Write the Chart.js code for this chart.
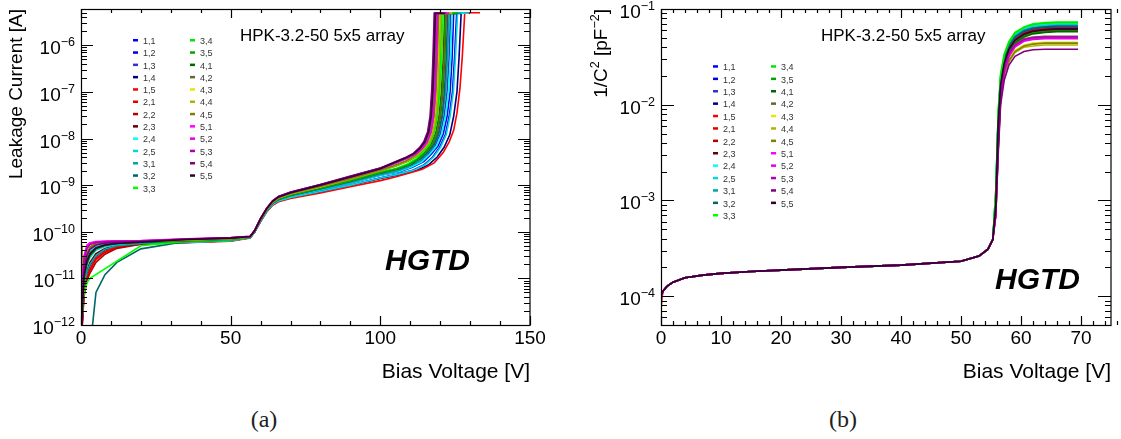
<!DOCTYPE html>
<html>
<head>
<meta charset="utf-8">
<script src="https://cdn.jsdelivr.net/npm/chart.js@4.4.1/dist/chart.umd.min.js"></script>
<style>
  html, body { margin: 0; padding: 0; background: #fff; }
  #page { position: relative; width: 1121px; height: 439px; overflow: hidden; }
  canvas { position: absolute; top: 0; }
  #iv { left: 0; }
  #cv { left: 560px; }
  .cap { position: absolute; top: 406px; width: 60px; text-align: center; font: 24px "Liberation Serif", "DejaVu Serif", serif; color: #222; }
</style>
</head>
<body>
<div id="page">
  <canvas id="iv" width="560" height="395"></canvas>
  <canvas id="cv" width="561" height="395"></canvas>
  <div class="cap" style="left:234px">(a)</div>
  <div class="cap" style="left:813px">(b)</div>
</div>
<script>
// pads of the 5x5 array, in measurement order
const padLabels = ['1,1', '1,2', '1,3', '1,4', '1,5', '2,1', '2,2', '2,3', '2,4', '2,5',
  '3,1', '3,2', '3,3', '3,4', '3,5', '4,1', '4,2', '4,3', '4,4', '4,5',
  '5,1', '5,2', '5,3', '5,4', '5,5'];
const padColors = ['#0000ff', '#0000e6', '#3333cc', '#000080', '#ff0000', '#e60000', '#b30000', '#660000',
  '#00ffff', '#00d9d9', '#00a6a6', '#006666', '#00ff00', '#00e600', '#00a600', '#006600',
  '#666633', '#e6e600', '#b3b300', '#808000', '#ff00ff', '#e600e6', '#b300b3', '#800080', '#330033'];

// ---- I-V: leakage current in pA ----
const ivVoltLow = [0, 0.3, 1, 2, 3, 5, 8, 12, 20];
const ivLow = [
  [0.3, 1.5, 12, 25, 35, 46, 52, 55, 57],
  [0.3, 1.4, 11, 23, 33, 45, 51, 55, 57],
  [0.3, 1.6, 13, 27, 37, 48, 53, 56, 58],
  [0.2, 0.9, 6, 13, 19, 30, 41, 49, 55],
  [0.2, 0.8, 5, 10, 15, 25, 36, 46, 54],
  [0.2, 0.8, 5, 11, 16, 27, 38, 48, 55],
  [0.2, 0.7, 4, 9, 13, 22, 33, 44, 54],
  [0.2, 0.9, 7, 15, 22, 34, 44, 51, 58],
  [0.3, 1.8, 14, 28, 38, 49, 54, 56, 58],
  [0.3, 1.2, 9, 19, 28, 40, 48, 53, 57],
  [0.2, 1.0, 7, 14, 20, 31, 42, 50, 56],
  [0.1, 0.1, 0.1, 0.1, 0.3, 5, 12, 22, 43],
  [0.2, 1.5, 5, 8, 10, null, null, null, 50],
  [0.4, 2.5, 20, 38, 48, 56, 59, 61, 62],
  [0.3, 1.5, 12, 25, 35, 46, 53, 57, 60],
  [0.3, 1.3, 10, 21, 31, 43, 51, 56, 60],
  [0.4, 2.5, 20, 37, 47, 55, 59, 61, 62],
  [55, 2, 22, 42, 52, 58, 61, 62, 63],
  [0.5, 3, 25, 45, 55, 60, 61, 62, 63],
  [50, 1, 10, 30, 45, 57, 60, 61, 62],
  [0.6, 4, 30, 52, 58, 62, 63, 64, 65],
  [0.5, 3.5, 28, 48, 56, 60, 62, 63, 64],
  [0.5, 3, 24, 44, 53, 59, 61, 62, 63],
  [0.4, 2, 16, 32, 42, 52, 57, 60, 62],
  [0.3, 1.4, 11, 24, 34, 45, 52, 56, 60],
];
const ivVoltMid = [35, 50, 56.5, 58, 60, 62, 64, 66, 70, 80, 90, 100];
const ivMid = [
  [59, 64, 74, 99, 171, 273, 387, 462, 548, 735, 1005, 1430],
  [61, 66, 75, 100, 174, 279, 398, 478, 577, 795, 1110, 1625],
  [61, 66, 75, 100, 176, 282, 402, 483, 585, 808, 1135, 1660],
  [59, 64, 74, 98, 168, 270, 380, 455, 538, 715, 980, 1390],
  [58, 63, 73, 98, 165, 265, 370, 440, 520, 680, 920, 1250],
  [63, 68, 76, 101, 179, 288, 412, 500, 608, 850, 1215, 1830],
  [63, 68, 76, 102, 181, 291, 417, 508, 620, 868, 1245, 1870],
  [68, 73, 78, 104, 188, 306, 444, 552, 680, 985, 1475, 2210],
  [60, 65, 75, 100, 175, 280, 400, 480, 580, 800, 1120, 1640],
  [59, 64, 74, 99, 170, 272, 385, 460, 545, 730, 1000, 1420],
  [61, 66, 75, 100, 177, 284, 405, 486, 590, 815, 1145, 1680],
  [62, 67, 76, 101, 178, 286, 408, 495, 600, 838, 1195, 1790],
  [62, 67, 76, 102, 182, 293, 420, 512, 625, 875, 1260, 1895],
  [66, 71, 77, 103, 184, 297, 426, 523, 640, 905, 1320, 1990],
  [63, 68, 76, 101, 180, 289, 414, 503, 612, 856, 1225, 1845],
  [66, 71, 77, 103, 185, 300, 430, 530, 650, 920, 1350, 2050],
  [69, 74, 79, 105, 191, 312, 452, 563, 695, 1005, 1510, 2270],
  [67, 72, 77, 103, 186, 302, 433, 535, 657, 930, 1365, 2080],
  [66, 71, 77, 103, 185, 299, 429, 528, 647, 915, 1340, 2030],
  [67, 72, 77, 104, 187, 304, 436, 540, 665, 945, 1390, 2120],
  [71, 75, 80, 106, 192, 314, 455, 567, 700, 1015, 1525, 2290],
  [69, 73, 79, 104, 189, 307, 446, 555, 684, 992, 1485, 2225],
  [70, 74, 80, 106, 193, 316, 458, 571, 705, 1025, 1540, 2315],
  [69, 74, 79, 106, 194, 318, 461, 575, 710, 1035, 1560, 2340],
  [68, 73, 79, 105, 190, 310, 450, 560, 690, 1000, 1500, 2250],
];
// onset of breakdown above 100 V: [voltage, current pA] per pad
const ivTail = [
  [[105.5, 1700], [110.5, 2050], [114.5, 2700], [117.5, 4000], [119.8, 6500], [121.7, 12000], [123, 30000], [124.1, 100000], [124.8, 550000]],
  [[106.5, 1950], [110.5, 2400], [114.5, 3200], [117, 4600], [119.3, 7000], [121, 12500], [122.3, 30000], [123.3, 100000], [123.95, 500000]],
  [[105.5, 1950], [109.5, 2400], [113.5, 3200], [116, 4600], [118.3, 7000], [120, 12500], [121.3, 30000], [122.3, 100000], [122.95, 500000]],
  [[107, 1700], [112, 2050], [116, 2700], [119, 4000], [121.3, 6500], [123.2, 12000], [124.5, 30000], [125.6, 100000], [126.3, 550000]],
  [[105, 1500], [110, 1850], [114, 2200], [118, 3000], [121, 5000], [123, 8500], [124.5, 15000], [125.6, 35000], [126.6, 120000], [127.4, 600000]],
  [[106, 2250], [110, 2800], [113, 3700], [115.5, 5200], [117.5, 7500], [119, 13000], [120.1, 30000], [120.9, 100000], [121.5, 500000]],
  [[105.5, 2250], [109.5, 2800], [112.5, 3700], [115, 5200], [117, 7500], [118.5, 13000], [119.6, 30000], [120.4, 100000], [121, 500000]],
  [[105, 3000], [109, 3800], [112, 4800], [114, 6300], [115.5, 8500], [116.8, 14000], [117.6, 30000], [118.2, 120000], [118.6, 600000]],
  [[106, 1950], [110, 2400], [114, 3200], [116.5, 4600], [118.8, 7000], [120.5, 12500], [121.8, 30000], [122.8, 100000], [123.45, 500000]],
  [[105.8, 1700], [110.8, 2050], [114.8, 2700], [117.8, 4000], [120.1, 6500], [122, 12000], [123.3, 30000], [124.4, 100000], [125.1, 550000]],
  [[105, 1950], [109, 2400], [113, 3200], [115.5, 4600], [117.8, 7000], [119.5, 12500], [120.8, 30000], [121.8, 100000], [122.45, 500000]],
  [[106.5, 2250], [110.5, 2800], [113.5, 3700], [116, 5200], [118, 7500], [119.5, 13000], [120.6, 30000], [121.4, 100000], [122, 500000]],
  [[105, 2250], [109, 2800], [112, 3700], [114.5, 5200], [116.5, 7500], [118, 13000], [119.1, 30000], [119.9, 100000], [120.5, 500000]],
  [[105.5, 2600], [109.5, 3300], [112.5, 4300], [114.7, 5800], [116.5, 8000], [117.9, 13500], [118.9, 30000], [119.6, 110000], [120.05, 550000]],
  [[105.8, 2250], [109.8, 2800], [112.8, 3700], [115.3, 5200], [117.3, 7500], [118.8, 13000], [119.9, 30000], [120.7, 100000], [121.3, 500000]],
  [[105, 2600], [109, 3300], [112, 4300], [114.2, 5800], [116, 8000], [117.4, 13500], [118.4, 30000], [119.1, 110000], [119.55, 550000]],
  [[104.8, 3000], [108.8, 3800], [111.8, 4800], [113.8, 6300], [115.3, 8500], [116.6, 14000], [117.4, 30000], [118, 120000], [118.4, 600000]],
  [[104.8, 2600], [108.8, 3300], [111.8, 4300], [114, 5800], [115.8, 8000], [117.2, 13500], [118.2, 30000], [118.9, 110000], [119.35, 550000]],
  [[105.2, 2600], [109.2, 3300], [112.2, 4300], [114.4, 5800], [116.2, 8000], [117.6, 13500], [118.6, 30000], [119.3, 110000], [119.75, 550000]],
  [[104.5, 2600], [108.5, 3300], [111.5, 4300], [113.7, 5800], [115.5, 8000], [116.9, 13500], [117.9, 30000], [118.6, 110000], [119.05, 550000]],
  [[104.5, 3000], [108.5, 3800], [111.5, 4800], [113.5, 6300], [115, 8500], [116.3, 14000], [117.1, 30000], [117.7, 120000], [118.1, 600000]],
  [[105.2, 3000], [109.2, 3800], [112.2, 4800], [114.2, 6300], [115.7, 8500], [117, 14000], [117.8, 30000], [118.4, 120000], [118.8, 600000]],
  [[104.2, 3000], [108.2, 3800], [111.2, 4800], [113.2, 6300], [114.7, 8500], [116, 14000], [116.8, 30000], [117.4, 120000], [117.8, 600000]],
  [[104, 3000], [108, 3800], [111, 4800], [113, 6300], [114.5, 8500], [115.8, 14000], [116.6, 30000], [117.2, 120000], [117.6, 600000]],
  [[104.4, 3000], [108.4, 3800], [111.4, 4800], [113.4, 6300], [114.9, 8500], [116.2, 14000], [117, 30000], [117.6, 120000], [118, 600000]],
];
// compliance reached at ivSatVolt, held until ivEndVolt
const ivSatVolt = [125.5, 124.5, 123.5, 127.0, 128.2, 122.0, 121.5, 119.0, 124.0, 125.8,
  123.0, 122.5, 121.0, 120.5, 121.8, 120.0, 118.8, 119.8, 120.2, 119.5,
  118.5, 119.2, 118.2, 118.0, 118.4];
const ivEndVolt = [129, 128, 127, 130, 133.3, 126, 125, 123, 128, 129.6,
  127, 126, 125, 125, 126, 124, 122.5, 124, 124, 123,
  122, 123, 122, 121, 121.5];
const ivSatCurr = [4.9e6, 4.9e6, 4.8e6, 4.9e6, 5.0e6, 4.9e6, 4.8e6, 4.9e6, 5.0e6, 4.9e6,
  4.9e6, 4.8e6, 4.9e6, 4.9e6, 4.8e6, 4.9e6, 4.8e6, 4.9e6, 4.8e6, 4.9e6,
  4.9e6, 4.8e6, 4.9e6, 4.9e6, 4.8e6];

// ---- C-V: 1/C^2 in pF^-2 ----
const cvStart = [1.02e-4, 1.02e-4, 1.0e-4, 1.02e-4, 1.02e-4, 1.0e-4, 1.02e-4, 1.02e-4, 1.02e-4, 1.02e-4,
  1.0e-4, 1.02e-4, 1.02e-4, 1.02e-4, 1.0e-4, 1.02e-4, 9.5e-5, 6.8e-5, 7.2e-5, 9.0e-5,
  8.5e-5, 8.8e-5, 9.5e-5, 1.0e-4, 1.02e-4];
// below depletion all pads coincide
const cvVoltFlat = [0.3, 1, 2, 4, 7, 10, 15, 20, 30, 40, 50, 53, 54.5, 55.3];
const cvFlat = [1.12e-4, 1.27e-4, 1.40e-4, 1.56e-4, 1.66e-4, 1.73e-4, 1.81e-4, 1.87e-4,
  2.00e-4, 2.11e-4, 2.32e-4, 2.62e-4, 3.1e-4, 3.9e-4];
const cvVoltRise = [55.8, 56.2, 56.6, 57.2, 58, 59, 60.5, 62, 64, 66, 69.5];
const cvRise = [
  [0.0011, 0.0073, 0.018, 0.030, 0.041, 0.051, 0.059, 0.063, 0.065, 0.066, 0.066],
  [0.0010, 0.0070, 0.018, 0.029, 0.040, 0.050, 0.058, 0.062, 0.064, 0.065, 0.065],
  [0.0010, 0.0068, 0.017, 0.028, 0.039, 0.049, 0.057, 0.061, 0.063, 0.064, 0.064],
  [0.0009, 0.0062, 0.016, 0.027, 0.038, 0.047, 0.055, 0.059, 0.061, 0.062, 0.062],
  [0.0010, 0.0066, 0.017, 0.028, 0.039, 0.048, 0.056, 0.060, 0.062, 0.063, 0.063],
  [0.0009, 0.0064, 0.016, 0.027, 0.038, 0.047, 0.055, 0.059, 0.061, 0.062, 0.062],
  [0.0009, 0.0060, 0.016, 0.026, 0.036, 0.046, 0.053, 0.057, 0.059, 0.060, 0.060],
  [0.0009, 0.0062, 0.016, 0.027, 0.037, 0.047, 0.054, 0.058, 0.060, 0.061, 0.061],
  [0.0012, 0.0080, 0.020, 0.032, 0.044, 0.054, 0.062, 0.067, 0.069, 0.070, 0.070],
  [0.0012, 0.0078, 0.019, 0.031, 0.043, 0.053, 0.061, 0.066, 0.068, 0.069, 0.069],
  [0.0011, 0.0074, 0.019, 0.030, 0.042, 0.052, 0.060, 0.064, 0.066, 0.067, 0.067],
  [0.0011, 0.0072, 0.018, 0.030, 0.041, 0.051, 0.059, 0.063, 0.065, 0.066, 0.066],
  [0.0013, 0.0085, 0.021, 0.034, 0.046, 0.057, 0.065, 0.070, 0.072, 0.073, 0.073],
  [0.0013, 0.0082, 0.020, 0.033, 0.045, 0.056, 0.064, 0.069, 0.071, 0.072, 0.072],
  [0.0009, 0.0060, 0.016, 0.026, 0.036, 0.045, 0.052, 0.056, 0.058, 0.059, 0.059],
  [0.0009, 0.0058, 0.015, 0.026, 0.035, 0.044, 0.051, 0.055, 0.057, 0.058, 0.058],
  [0.0008, 0.0042, 0.013, 0.024, 0.034, 0.043, 0.049, 0.051, 0.052, 0.052, 0.052],
  [0.0008, 0.0036, 0.012, 0.021, 0.030, 0.037, 0.042, 0.044, 0.045, 0.045, 0.045],
  [0.0007, 0.0034, 0.011, 0.020, 0.028, 0.035, 0.040, 0.041, 0.042, 0.042, 0.042],
  [0.0007, 0.0035, 0.011, 0.021, 0.029, 0.036, 0.041, 0.043, 0.044, 0.044, 0.044],
  [0.0007, 0.0036, 0.012, 0.022, 0.032, 0.041, 0.047, 0.049, 0.050, 0.050, 0.050],
  [0.0007, 0.0035, 0.012, 0.022, 0.032, 0.040, 0.046, 0.048, 0.049, 0.049, 0.049],
  [0.0008, 0.0040, 0.013, 0.023, 0.034, 0.042, 0.048, 0.050, 0.051, 0.051, 0.051],
  [0.0007, 0.0030, 0.010, 0.018, 0.026, 0.032, 0.036, 0.0375, 0.038, 0.038, 0.038],
  [0.0009, 0.0064, 0.016, 0.027, 0.038, 0.047, 0.055, 0.059, 0.061, 0.062, 0.062],
];

const FONT = '"Liberation Sans", Arial, Helvetica, sans-serif';
const PA = 1e-12;

function ivPoints(i) {
  const pts = [];
  ivVoltLow.forEach((v, k) => {
    if (ivLow[i][k] != null) pts.push({ x: v, y: ivLow[i][k] * PA });
  });
  ivVoltMid.forEach((v, k) => pts.push({ x: v, y: ivMid[i][k] * PA }));
  ivTail[i].forEach(([v, c]) => pts.push({ x: v, y: c * PA }));
  pts.push({ x: ivSatVolt[i], y: ivSatCurr[i] * PA });
  pts.push({ x: ivEndVolt[i], y: ivSatCurr[i] * PA });
  return pts;
}

function cvPoints(i) {
  const pts = [{ x: 0, y: cvStart[i] }];
  cvVoltFlat.forEach((v, k) => pts.push({ x: v, y: cvFlat[k] }));
  cvVoltRise.forEach((v, k) => pts.push({ x: v, y: cvRise[i][k] }));
  return pts;
}

// text with raised parts, e.g. 10^-6; align 'right', 'center' or 'left' at x
function drawSup(ctx, parts, x, y, size, align) {
  const widths = parts.map(([t, sup]) => {
    ctx.font = `${sup ? size * 0.66 : size}px ${FONT}`;
    return ctx.measureText(t).width;
  });
  const total = widths.reduce((a, b) => a + b, 0);
  let cx = align === 'right' ? x - total : align === 'center' ? x - total / 2 : x;
  ctx.textAlign = 'left';
  ctx.textBaseline = 'alphabetic';
  parts.forEach(([t, sup], k) => {
    ctx.font = `${sup ? size * 0.66 : size}px ${FONT}`;
    ctx.fillText(t, cx, sup ? y - size * 0.42 : y);
    cx += widths[k];
  });
}

// ROOT-like frame: inward ticks on all four sides, decade labels on the log axis
const rootFrame = {
  id: 'rootFrame',
  afterDatasetsDraw(chart, args, o) {
    const { ctx, chartArea: a } = chart;
    const x = chart.scales.x;
    const y = chart.scales.y;
    ctx.save();
    ctx.strokeStyle = '#000';
    ctx.lineWidth = 1.2;
    ctx.strokeRect(a.left + 0.5, a.top + 0.5, a.right - a.left - 0.5, a.bottom - a.top);
    ctx.beginPath();
    const nx = Math.round((x.max - x.min) / o.xMinor);
    for (let k = 0; k <= nx; k++) {
      const v = x.min + k * o.xMinor;
      const px = Math.round(x.getPixelForValue(v)) + 0.5;
      const len = k % o.xMajorEvery === 0 ? o.xMajorLen : o.xMinorLen;
      ctx.moveTo(px, a.bottom); ctx.lineTo(px, a.bottom - len);
      ctx.moveTo(px, a.top); ctx.lineTo(px, a.top + len);
    }
    const d0 = Math.floor(Math.log10(y.min));
    const d1 = Math.ceil(Math.log10(y.max));
    for (let d = d0; d <= d1; d++) {
      for (let m = 1; m <= 9; m++) {
        const v = m * Math.pow(10, d);
        if (v < y.min * 0.999 || v > y.max * 1.001) continue;
        const py = Math.round(y.getPixelForValue(v)) + 0.5;
        const len = m === 1 ? o.yMajorLen : o.yMinorLen;
        ctx.moveTo(a.left, py); ctx.lineTo(a.left + len, py);
        ctx.moveTo(a.right, py); ctx.lineTo(a.right - len, py);
      }
    }
    ctx.stroke();

    ctx.fillStyle = '#000';
    ctx.font = `19px ${FONT}`;
    ctx.textAlign = 'center';
    ctx.textBaseline = 'middle';
    for (let k = 0; k <= nx; k += o.xMajorEvery) {
      const v = x.min + k * o.xMinor;
      if (v > o.xLabelMax) continue;
      ctx.fillText(String(v), x.getPixelForValue(v), a.bottom + 14);
    }
    for (let d = d0; d <= d1; d++) {
      const v = Math.pow(10, d);
      if (v < y.min * 0.999 || v > y.max * 1.001) continue;
      const py = y.getPixelForValue(v);
      drawSup(ctx, [['10', false], ['\u2212' + Math.abs(d), true]], a.left - 6, py + 9, 19, 'right');
    }
    ctx.restore();
  },
};

// two-column pad legend, title, HGTD tag and axis titles
const panelText = {
  id: 'panelText',
  afterDraw(chart, args, o) {
    const { ctx, chartArea: a } = chart;
    ctx.save();
    padColors.forEach((c, i) => {
      const col = i < 13 ? 0 : 1;
      const row = i < 13 ? i : i - 13;
      const lx = o.legX[col];
      const ly = o.legY + row * o.legDy;
      ctx.fillStyle = c;
      ctx.fillRect(lx, ly - 1.5, 5, 2.5);
      ctx.fillStyle = '#333';
      ctx.font = `9px ${FONT}`;
      ctx.textAlign = 'left';
      ctx.textBaseline = 'middle';
      ctx.fillText(padLabels[i], lx + 10, ly + 1);
    });

    ctx.fillStyle = '#000';
    ctx.font = `17px ${FONT}`;
    ctx.textAlign = 'left';
    ctx.textBaseline = 'middle';
    ctx.fillText('HPK-3.2-50 5x5 array', o.titleX, 36);

    ctx.font = `italic bold 30px ${FONT}`;
    ctx.textAlign = 'right';
    ctx.textBaseline = 'alphabetic';
    ctx.fillText('HGTD', o.tagRight, o.tagBase);

    ctx.font = `21px ${FONT}`;
    ctx.textAlign = 'right';
    ctx.textBaseline = 'middle';
    ctx.fillText('Bias Voltage [V]', a.right, 372);

    ctx.save();
    ctx.translate(o.yTitleX, a.top);
    ctx.rotate(-Math.PI / 2);
    drawSup(ctx, o.yTitle, 0, 6, 19, 'right');
    ctx.restore();
    ctx.restore();
  },
};

function makeDatasets(pointsFn) {
  return padLabels.map((lab, i) => ({
    label: lab,
    data: pointsFn(i),
    borderColor: padColors[i],
    backgroundColor: padColors[i],
    borderWidth: 1.6,
    pointRadius: 0,
    showLine: true,
    spanGaps: true,
    tension: 0,
    order: padLabels.length - i,
  }));
}

function baseOptions(padding, xr, yr, frame, text) {
  return {
    responsive: false,
    animation: false,
    devicePixelRatio: 1,
    layout: { padding },
    scales: {
      x: { type: 'linear', min: xr[0], max: xr[1], display: false },
      y: { type: 'logarithmic', min: yr[0], max: yr[1], display: false },
    },
    plugins: {
      legend: { display: false },
      tooltip: { enabled: false },
      rootFrame: frame,
      panelText: text,
    },
  };
}

new Chart(document.getElementById('iv'), {
  type: 'scatter',
  data: { datasets: makeDatasets(ivPoints) },
  options: baseOptions(
    { left: 81, top: 9, right: 30, bottom: 70 },
    [0, 150], [1e-12, 6e-6],
    { xMinor: 10, xMajorEvery: 5, xMinorLen: 4, xMajorLen: 9, yMinorLen: 6, yMajorLen: 12, xLabelMax: 150 },
    {
      legX: [133, 190], legY: 40.5, legDy: 12.3,
      titleX: 240, tagRight: 470, tagBase: 270,
      yTitleX: 16, yTitle: [['Leakage Current [A]', false]],
    },
  ),
  plugins: [rootFrame, panelText],
});

new Chart(document.getElementById('cv'), {
  type: 'scatter',
  data: { datasets: makeDatasets(cvPoints) },
  options: baseOptions(
    { left: 101, top: 9, right: 10, bottom: 70 },
    [0, 75], [5e-5, 0.1],
    { xMinor: 2, xMajorEvery: 5, xMinorLen: 4, xMajorLen: 9, yMinorLen: 6, yMajorLen: 13, xLabelMax: 70 },
    {
      legX: [153, 211], legY: 66.7, legDy: 12.4,
      titleX: 261, tagRight: 520, tagBase: 289,
      yTitleX: 41, yTitle: [['1/C', false], ['2', true], [' [pF', false], ['\u22122', true], [']', false]],
    },
  ),
  plugins: [rootFrame, panelText],
});
</script>
</body>
</html>
